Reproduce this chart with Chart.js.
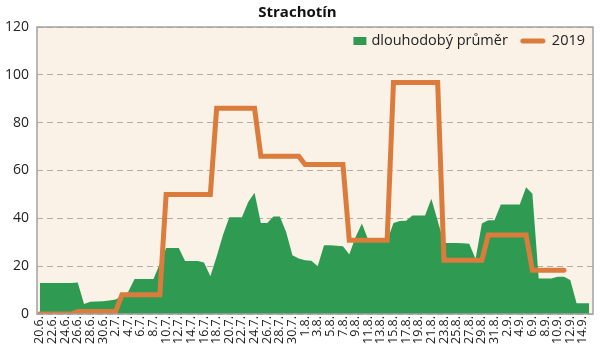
<!DOCTYPE html>
<html>
<head>
<meta charset="utf-8">
<title>Strachotín</title>
<script src="https://cdn.jsdelivr.net/npm/chart.js@4/dist/chart.umd.min.js"></script>
<style>
  body { margin: 0; background: #fff; }
</style>
</head>
<body>
<canvas id="chart" width="600" height="355"></canvas>
<script>
// days shown on the x axis (every second one gets a label)
let days = [
  '20.6.', '21.6.', '22.6.', '23.6.', '24.6.', '25.6.', '26.6.', '27.6.', '28.6.', '29.6.', '30.6.',
  '1.7.', '2.7.', '3.7.', '4.7.', '5.7.', '6.7.', '7.7.', '8.7.', '9.7.', '10.7.', '11.7.', '12.7.',
  '13.7.', '14.7.', '15.7.', '16.7.', '17.7.', '18.7.', '19.7.', '20.7.', '21.7.', '22.7.', '23.7.',
  '24.7.', '25.7.', '26.7.', '27.7.', '28.7.', '29.7.', '30.7.', '31.7.',
  '1.8.', '2.8.', '3.8.', '4.8.', '5.8.', '6.8.', '7.8.', '8.8.', '9.8.', '10.8.', '11.8.', '12.8.',
  '13.8.', '14.8.', '15.8.', '16.8.', '17.8.', '18.8.', '19.8.', '20.8.', '21.8.', '22.8.', '23.8.',
  '24.8.', '25.8.', '26.8.', '27.8.', '28.8.', '29.8.', '30.8.', '31.8.',
  '1.9.', '2.9.', '3.9.', '4.9.', '5.9.', '6.9.', '7.9.', '8.9.', '9.9.', '10.9.', '11.9.', '12.9.',
  '13.9.', '14.9.', '15.9.'
];

// long-term average (green area)
let prumer = [
  13, 13, 13, 13, 13, 13, 13.2, 4.2, 5.1, 5.2, 5.3,
  5.6, 6.1, 7.5, 9.3, 14.6, 14.6, 14.6, 14.6, 21, 27.6, 27.6, 27.6,
  22.2, 22.2, 22.2, 21.5, 15.8, 24, 33, 40.5, 40.5, 40.5, 46.8,
  50.7, 38, 38, 40.8, 40.8, 34.3, 24.6, 23.2,
  22.5, 22.3, 20, 28.7, 28.7, 28.5, 28.3, 24.9, 32.2, 37.8, 31, 30.5,
  30.5, 30.5, 38, 38.9, 39, 41.2, 41.2, 41.2, 48.2, 39, 29.7,
  29.7, 29.7, 29.6, 29.4, 23, 37.8, 39.2, 39.2,
  45.8, 45.8, 45.8, 45.8, 53, 50.3, 14.8, 14.8, 14.8, 15.6, 15.6,
  14.2, 4.5, 4.5, 4.5
];

// season 2019 (orange line)
let rok2019 = [
  0, 0, 0, 0, 0, 0, 1, 1, 1, 1, 1,
  1, 1, 8, 8, 8, 8, 8, 8, 8, 50, 50, 50,
  50, 50, 50, 50, 50, 86, 86, 86, 86, 86, 86,
  86, 66, 66, 66, 66, 66, 66, 66,
  62.5, 62.5, 62.5, 62.5, 62.5, 62.5, 62.5, 30.8, 30.8, 30.8, 30.8, 30.8,
  30.8, 30.8, 96.8, 96.8, 96.8, 96.8, 96.8, 96.8, 96.8, 96.8, 22.5,
  22.5, 22.5, 22.5, 22.5, 22.5, 22.5, 33, 33,
  33, 33, 33, 33, 33, 18.3, 18.3, 18.3, 18.3, 18.3, 18.3,
  null, null, null, null
];

let yTicks = [0, 20, 40, 60, 80, 100, 120];

const GREEN = '#2f9a52';
const ORANGE = '#dc7c3c';
const FONT = "'Open Sans', 'Noto Sans', sans-serif";

// plot background, frame and the legend inside the plot
const plotBox = {
  id: 'plotBox',
  beforeDraw(chart) {
    let a = chart.chartArea, c = chart.ctx;
    c.save();
    c.fillStyle = '#fbf2e7';
    c.fillRect(a.left, a.top, a.right - a.left, a.bottom - a.top);
    c.restore();
  },
  afterDatasetsDraw(chart) {
    let a = chart.chartArea, c = chart.ctx;
    c.save();
    c.strokeStyle = '#a3a3a3';
    c.lineWidth = 1.5;
    c.strokeRect(a.left, a.top, a.right - a.left, a.bottom - a.top);

    // legend
    c.font = '14.5px ' + FONT;
    c.textBaseline = 'middle';
    c.fillStyle = '#222';
    let y = a.top + 14;
    let x = a.right - 8;
    let w2019 = c.measureText('2019').width;
    c.textAlign = 'left';
    c.fillText('2019', x - w2019, y);
    x -= w2019 + 9;
    c.strokeStyle = ORANGE;
    c.lineWidth = 5;
    c.lineCap = 'round';
    c.beginPath();
    c.moveTo(x - 20, y);
    c.lineTo(x, y);
    c.stroke();
    x -= 20 + 15;
    let wAvg = c.measureText('dlouhodobý průměr').width;
    c.fillStyle = '#222';
    c.fillText('dlouhodobý průměr', x - wAvg, y);
    x -= wAvg + 5;
    c.fillStyle = GREEN;
    c.fillRect(x - 13, y - 4, 13, 8);
    c.restore();
  }
};

let ctx = document.getElementById('chart').getContext('2d');
let myChart = new Chart(ctx, {
  type: 'line',
  data: {
    datasets: [
      {
        label: '2019',
        data: rok2019.map((v, i) => ({ x: i, y: v })),
        borderColor: ORANGE,
        borderWidth: 5,
        borderCapStyle: 'round',
        borderJoinStyle: 'miter',
        pointRadius: 0,
        fill: false,
        tension: 0,
        spanGaps: false,
        order: 0
      },
      {
        label: 'dlouhodobý průměr',
        data: prumer.map((v, i) => ({ x: i, y: v })),
        backgroundColor: GREEN,
        borderWidth: 0,
        pointRadius: 0,
        fill: 'origin',
        tension: 0,
        order: 1
      }
    ]
  },
  options: {
    responsive: false,
    animation: false,
    devicePixelRatio: 1,
    layout: { padding: { left: 0, right: 5, top: 0, bottom: 0 } },
    plugins: {
      legend: { display: false },
      tooltip: { enabled: false },
      title: {
        display: true,
        text: 'Strachotín',
        color: '#111',
        font: { family: FONT, size: 15, weight: 'bold' },
        padding: { top: 4, bottom: 5 }
      }
    },
    scales: {
      x: {
        type: 'linear',
        min: -0.45,
        max: 87.6,
        afterBuildTicks(axis) {
          axis.ticks = days.map((d, i) => ({ value: i })).filter(t => t.value % 2 === 0);
        },
        afterFit(axis) { axis.height = 41; },
        ticks: {
          autoSkip: false,
          maxRotation: 90,
          minRotation: 90,
          padding: 2,
          color: '#222',
          font: { family: FONT, size: 12.5 },
          callback: (value) => days[value]
        },
        grid: { display: false, drawTicks: false },
        border: { display: false }
      },
      y: {
        min: 0,
        max: 120,
        afterBuildTicks(axis) {
          axis.ticks = yTicks.map(v => ({ value: v }));
        },
        afterFit(axis) { axis.width = 37; },
        ticks: {
          padding: 8,
          color: '#222',
          font: { family: FONT, size: 14 }
        },
        grid: { color: '#b5aea7', lineWidth: 1, drawTicks: false },
        border: { display: false, dash: [6, 4] }
      }
    }
  },
  plugins: [plotBox]
});
</script>
</body>
</html>
